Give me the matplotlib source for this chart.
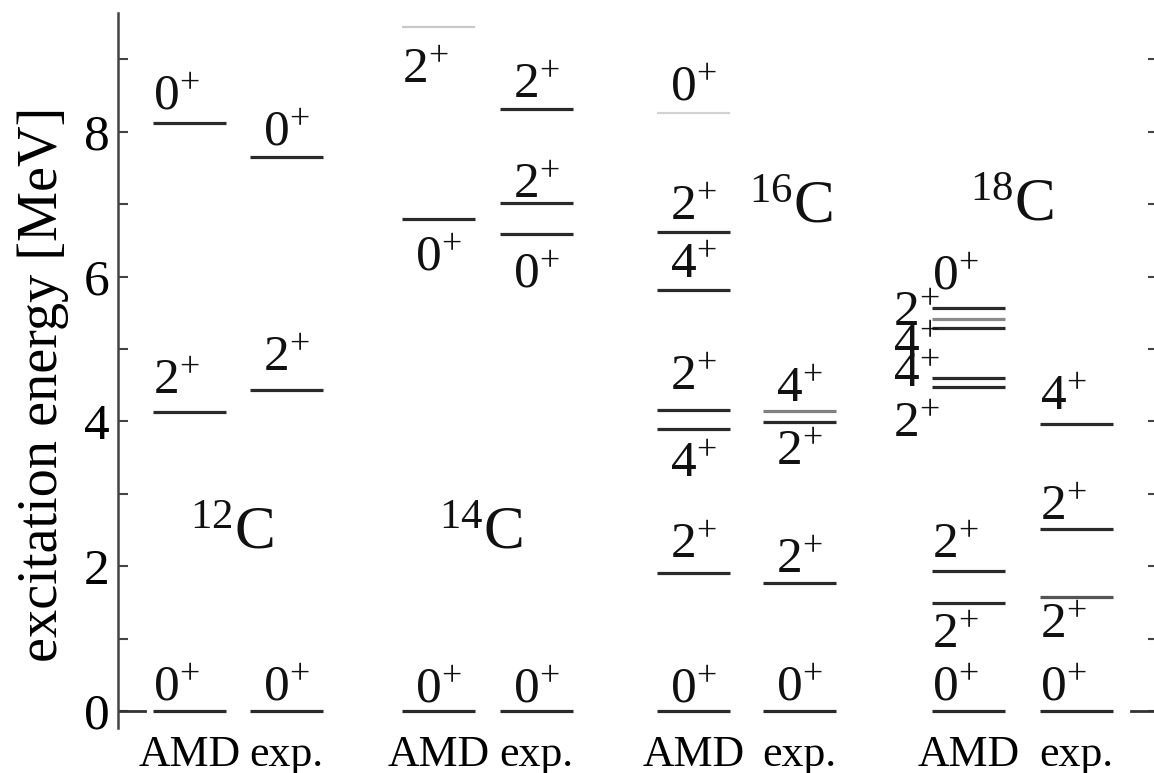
import matplotlib
matplotlib.use("Agg")
import matplotlib.pyplot as plt
from matplotlib.ticker import MultipleLocator

plt.rcParams['font.family'] = 'Liberation Serif'
plt.rcParams['mathtext.fontset'] = 'custom'
plt.rcParams['mathtext.rm'] = 'Liberation Serif'
plt.rcParams['mathtext.default'] = 'regular'

# excitation energies [MeV] and J^pi for each level scheme
c12_amd = [0.0, 4.13, 8.12]
c12_amd_jp = ["0+", "2+", "0+"]
c12_exp = [0.0, 4.44, 7.65]
c12_exp_jp = ["0+", "2+", "0+"]
c14_amd = [0.0, 6.79, 9.44]
c14_amd_jp = ["0+", "0+", "2+"]
c14_exp = [0.0, 6.59, 7.01, 8.32]
c14_exp_jp = ["0+", "0+", "2+", "2+"]
c16_amd = [0.0, 1.90, 3.89, 4.16, 5.82, 6.61, 8.26]
c16_amd_jp = ["0+", "2+", "4+", "2+", "4+", "2+", "0+"]
c16_exp = [0.0, 1.77, 3.99, 4.15]
c16_exp_jp = ["0+", "2+", "2+", "4+"]
c18_amd = [0.0, 1.49, 1.94, 4.48, 4.60, 5.29, 5.42, 5.57]
c18_amd_jp = ["0+", "2+", "2+", "2+", "4+", "4+", "2+", "0+"]
c18_exp = [0.0, 1.58, 2.51, 3.97]
c18_exp_jp = ["0+", "2+", "2+", "4+"]

nuclei = ["12", "14", "16", "18"]
methods = ["AMD", "exp."]

levels = [c12_amd, c12_exp, c14_amd, c14_exp, c16_amd, c16_exp, c18_amd, c18_exp]
spins = [c12_amd_jp, c12_exp_jp, c14_amd_jp, c14_exp_jp,
         c16_amd_jp, c16_exp_jp, c18_amd_jp, c18_exp_jp]

# column layout (x in axis units, 1 unit = 1 px)
col_x = [71.5, 168, 320.5, 418.5, 575.5, 681, 850.5, 958.5]
half = 36.5

# label anchor ('c' centred, 'l' at line start, 'r' left of line) and vertical offset in px
label_layout = [
    [("l", 10), ("l", 18), ("l", 13)],
    [("c", 10), ("c", 18), ("c", 12)],
    [("c", 8), ("c", -51), ("l", -56)],
    [("c", 8), ("c", -54), ("c", 5), ("c", 10)],
    [("c", 8), ("c", 15), ("c", -48), ("c", 20), ("c", 12), ("c", 12), ("c", 12)],
    [("c", 10), ("c", 10), ("c", -43), ("c", 8)],
    [("l", 10), ("l", -45), ("l", 12), ("r", -50), ("r", -9), ("r", -30), ("r", -8), ("l", 18)],
    [("l", 10), ("l", -41), ("l", 9), ("l", 13)],
]

# lighter lines
line_colors = {(2, 2): "#c8c8c8", (4, 6): "#d2d2d2", (5, 3): "#808080",
               (6, 6): "#8a8a8a", (7, 1): "#555555"}

# nucleus name positions (x, E)
nucleus_pos = [(114, 2.25), (363, 2.25), (673, 6.75), (894, 6.78)]

fig = plt.figure(figsize=(11.54, 7.73), dpi=100)
ax = fig.add_axes([118 / 1154, 1 - 728 / 773, 1040 / 1154, 715 / 773])

for i, (x, es, jps) in enumerate(zip(col_x, levels, spins)):
    for j, (e, jp) in enumerate(zip(es, jps)):
        col = line_colors.get((i, j), "#2a2a2a")
        lw = 1.6 if col in ("#c8c8c8", "#d2d2d2") else 2.3
        ax.hlines(e, x - half, x + half, color=col, lw=lw)
        anchor, dy = label_layout[i][j]
        if anchor == "c":
            xa, ha, dx = x, "center", 0
        elif anchor == "l":
            xa, ha, dx = x - half, "left", 0
        else:
            xa, ha, dx = x - half, "right", 8
        txt = jp[0] + "$^{" + jp[1] + "}$"
        ax.annotate(txt, xy=(xa, e), xytext=(dx, dy), textcoords="offset pixels",
                    ha=ha, va="baseline", fontsize=37, color="#111111")

for name, (x, e) in zip(nuclei, nucleus_pos):
    ax.text(x, e, "$^{" + name + "}$C", ha="center", va="baseline",
            fontsize=44, color="#111111")

# zero-energy markers at both frame edges
ax.plot([0, 0.026], [0, 0], color="#333333", lw=2, transform=ax.get_yaxis_transform())
ax.plot([0.974, 1.0], [0, 0], color="#333333", lw=2, transform=ax.get_yaxis_transform())

ax.set_xlim(0, 1040)
ax.set_ylim(-0.235, 9.64)

ax.set_xticks(col_x)
ax.set_xticklabels(methods * 4, fontsize=31.5)
ax.tick_params(axis="x", length=0, pad=5)

ax.yaxis.set_major_locator(MultipleLocator(2))
ax.yaxis.set_minor_locator(MultipleLocator(1))
ax.tick_params(axis="y", which="both", direction="in", length=7, width=1.5,
               color="#444444", right=True, labelsize=37, pad=6)

for s in ("top", "bottom"):
    ax.spines[s].set_visible(False)
ax.spines["left"].set_linewidth(1.8)
ax.spines["left"].set_color("#444444")
ax.spines["right"].set_linewidth(1.8)

ax.text(-0.072, 0.48, "excitation energy [MeV]", rotation=90, ha="center", va="center",
        fontsize=40.5, transform=ax.transAxes)

fig.savefig("out.png", dpi=100)
